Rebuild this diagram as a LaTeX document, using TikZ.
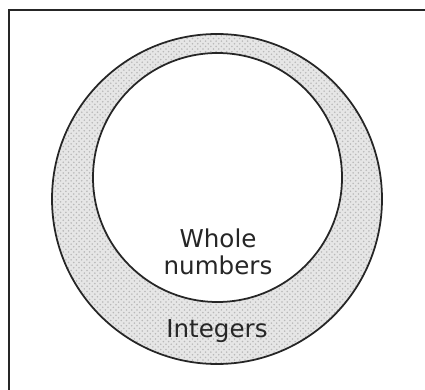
\documentclass[tikz,border=0pt]{standalone}
\usepackage{fontspec}
\setmainfont{DejaVu Sans}
\usepackage{xcolor}
\usetikzlibrary{patterns}
\definecolor{SetGray}{RGB}{230,230,230}

\begin{document}
\begin{tikzpicture}[x=0.02cm, y=0.02cm]
		\useasboundingbox (0,0) rectangle (425,389);
		
		\coordinate (Oout) at (217,190);
		\coordinate (Oin) at (217.5,211.5);
		
		% frame
		\draw[line width=1.2pt, black!85] (9,-5) -- (9,379) -- (430,379);
		
		% Integers ring
		\fill[SetGray] (Oout) circle (165);
		\fill[pattern=crosshatch dots, pattern color=gray!55] (Oout) circle (165);
		\draw[line width=1pt, black!85] (Oout) circle (165);
		
		% Whole numbers
		\fill[white] (Oin) circle (124.5);
		\draw[line width=1pt, black!85] (Oin) circle (124.5);
		
		\node[font=\fontsize{14}{15.5}\selectfont, align=center, text=black!85] (whole) at (218,137) {Whole\\numbers};
		\node[font=\fontsize{14}{16}\selectfont, text=black!85] (int) at (217,58) {Integers};
	\end{tikzpicture}
\end{document}
